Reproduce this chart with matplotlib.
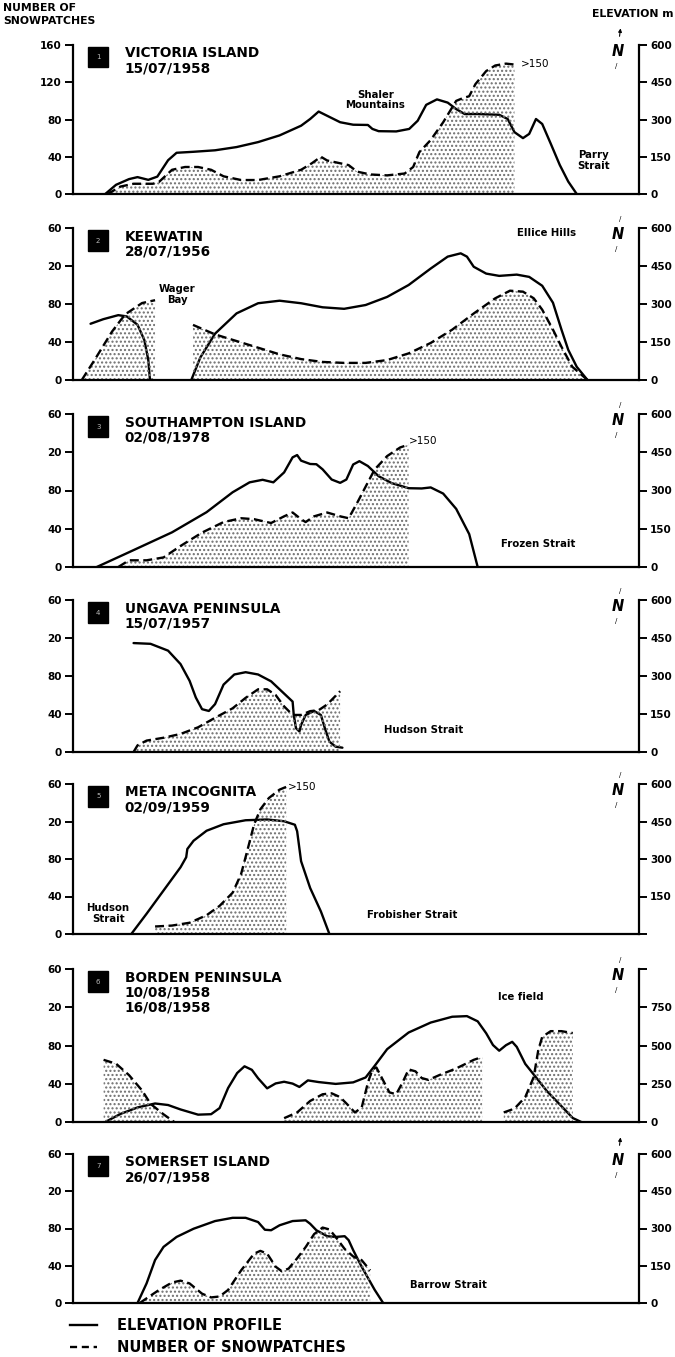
import matplotlib
matplotlib.use('Agg')
import matplotlib.pyplot as plt
from matplotlib.patches import Rectangle
from matplotlib.lines import Line2D

plt.rcParams['font.family'] = ['DejaVu Sans']
plt.rcParams['hatch.linewidth'] = 1.0

# ---------------- data (x = distance along profile, 0-100 relative units) -------------
P1_ELEV_X = [5.7, 7.6, 9.9, 11.4, 13.3, 14.9, 16.8, 18.3, 21.3, 25.1, 28.9, 32.7, 36.5, 40.3, 41.9, 43.4, 44.9, 47.2, 49.5, 52.1, 52.9, 54.0, 57.1, 59.4, 60.9, 62.4, 64.3, 66.2, 67.7, 69.2, 71.5, 75.3, 76.8, 78.0, 79.5, 80.6, 81.8, 82.9, 84.4, 86.0, 87.5, 89.0]
P1_ELEV_M = [0, 37, 60, 68, 57, 70, 136, 166, 170, 176, 189, 209, 236, 275, 302, 332, 315, 289, 279, 278, 262, 253, 252, 262, 295, 359, 381, 368, 342, 322, 322, 319, 302, 249, 225, 242, 302, 282, 203, 117, 50, 0]
P1_SNOW_X = [6.1, 8.4, 10.7, 14.1, 15.2, 17.5, 19.8, 22.1, 24.4, 26.6, 29.7, 32.7, 36.5, 40.3, 42.2, 43.8, 44.9, 47.2, 48.7, 50.2, 52.5, 55.5, 58.6, 60.1, 61.2, 63.2, 65.4, 67.7, 68.9, 70.0, 71.1, 73.0, 74.6, 76.5, 78.0]
P1_SNOW_N = [0, 8, 11, 11, 13, 26, 29, 29, 26, 19, 15, 15, 19, 26, 33, 40, 36, 33, 31, 24, 21, 20, 22, 29, 45, 58, 77, 100, 103, 105, 118, 132, 138, 140, 139]

P2_ELEV_X_A = [3.1, 5.35, 8.0, 9.5, 11.4, 12.6, 13.3, 13.6]
P2_ELEV_M_A = [222, 240, 256, 251, 218, 158, 79, 0]
P2_ELEV_X_B = [20.9, 22.5, 25.1, 28.9, 32.7, 36.5, 40.3, 44.1, 47.9, 51.7, 55.5, 59.3, 63.2, 66.2, 68.5, 69.6, 70.8, 73.0, 75.3, 78.4, 80.6, 82.9, 84.8, 86.3, 87.5, 89.0, 90.9]
P2_ELEV_M_B = [0, 89, 183, 263, 303, 313, 303, 287, 281, 296, 328, 375, 440, 487, 500, 487, 447, 420, 411, 416, 407, 372, 305, 199, 119, 52, 0]
P2_SNOW_X_A = [1.55, 3.8, 6.9, 9.2, 12.2, 14.5]
P2_SNOW_N_A = [0, 21, 51, 69, 81, 84]
P2_SNOW_X_B = [21.2, 25.1, 28.9, 32.7, 36.5, 40.3, 44.1, 47.9, 51.7, 55.5, 59.3, 63.2, 67.0, 70.8, 74.6, 77.2, 79.5, 81.4, 82.9, 84.8, 86.3, 88.2, 90.9]
P2_SNOW_N_B = [58, 48, 41, 34, 27, 22, 19, 18, 18, 21, 28, 39, 53, 70, 86, 94, 93, 86, 74, 53, 35, 14, 0]

P3_ELEV_X = [4.2, 9.9, 17.5, 23.6, 28.2, 31.2, 33.5, 35.4, 37.3, 38.8, 39.6, 40.3, 41.9, 43.0, 44.1, 45.7, 47.2, 48.3, 49.5, 50.6, 52.1, 54.0, 56.3, 59.3, 61.6, 63.2, 65.4, 67.7, 70.0, 71.5]
P3_ELEV_M = [0, 58, 136, 215, 293, 332, 342, 332, 371, 430, 439, 417, 404, 403, 383, 343, 330, 343, 402, 415, 396, 356, 329, 309, 308, 312, 288, 228, 129, 0]
P3_SNOW_X = [8.0, 9.9, 13.0, 16.0, 19.0, 22.8, 26.6, 29.7, 32.0, 35.0, 37.3, 38.8, 40.3, 41.1, 42.6, 44.9, 47.2, 48.7, 50.2, 51.7, 53.3, 55.5, 57.8, 59.3]
P3_SNOW_N = [0, 7, 7, 10, 22, 36, 47, 51, 50, 46, 53, 57, 50, 47, 53, 57, 53, 51, 67, 84, 102, 116, 125, 128]

P4_ELEV_X = [10.7, 13.7, 16.8, 19.0, 20.6, 21.7, 22.8, 24.0, 25.1, 26.6, 28.5, 30.5, 32.7, 35.0, 36.9, 38.8, 39.0, 39.4, 40.0, 40.3, 41.1, 42.6, 43.8, 44.5, 45.3, 46.4, 47.6]
P4_ELEV_M = [430, 427, 400, 347, 281, 215, 169, 162, 189, 266, 306, 315, 306, 279, 239, 199, 147, 94, 81, 107, 146, 162, 146, 94, 41, 21, 17]
P4_SNOW_X = [10.7, 11.4, 13.0, 16.0, 19.0, 22.1, 25.1, 28.2, 30.5, 32.7, 34.3, 35.8, 37.3, 38.8, 40.3, 41.9, 43.4, 44.9, 47.2]
P4_SNOW_N = [0, 7, 12, 15, 19, 26, 36, 46, 57, 66, 66, 60, 48, 39, 39, 43, 44, 50, 64]

P5_ELEV_X = [10.3, 13.0, 16.0, 19.0, 20.0, 20.2, 21.3, 23.6, 26.6, 30.5, 34.3, 37.3, 39.2, 39.6, 40.3, 41.9, 43.8, 45.3]
P5_ELEV_M = [0, 81, 174, 267, 307, 340, 373, 413, 439, 455, 458, 451, 437, 411, 291, 184, 90, 0]
P5_SNOW_X = [14.5, 17.5, 20.6, 23.6, 25.9, 28.2, 29.7, 30.8, 32.0, 33.1, 34.6, 36.5, 37.7]
P5_SNOW_N = [8, 9, 12, 20, 30, 44, 64, 89, 117, 133, 145, 154, 157]

P6_ELEV_X = [5.7, 8.4, 11.4, 14.5, 16.8, 19.0, 22.1, 24.4, 25.9, 27.4, 29.0, 30.3, 31.6, 32.7, 34.3, 35.8, 37.3, 38.8, 40.0, 41.5, 43.4, 46.4, 49.5, 51.7, 53.3, 55.5, 59.3, 63.2, 67.0, 69.6, 71.5, 73.0, 74.2, 75.3, 76.5, 77.6, 78.4, 79.9, 81.8, 83.7, 86.0, 88.3, 89.8]
P6_ELEV_M = [0, 53, 95, 121, 111, 82, 48, 51, 91, 222, 320, 364, 341, 286, 220, 252, 263, 251, 229, 272, 261, 249, 259, 291, 367, 476, 585, 650, 688, 692, 658, 580, 503, 466, 502, 524, 491, 380, 292, 203, 115, 26, 0]
P6_SNOW_X_A = [5.4, 7.6, 9.9, 12.2, 13.7, 16.0, 17.9]
P6_SNOW_N_A = [65, 61, 49, 33, 19, 8, 0]
P6_SNOW_X_B = [37.3, 39.6, 41.9, 44.1, 45.7, 47.2, 48.7, 49.8, 51.0, 52.1, 52.9, 53.6, 54.4, 55.9, 57.1, 58.2, 59.3, 60.5, 61.6, 62.8, 64.7, 67.7, 70.8, 72.3]
P6_SNOW_N_B = [4, 10, 22, 29, 30, 26, 17, 10, 15, 41, 55, 57, 48, 31, 29, 41, 55, 53, 46, 44, 49, 56, 65, 68]
P6_SNOW_X_C = [76.1, 78.0, 79.9, 81.4, 82.2, 82.9, 84.4, 86.3, 88.3]
P6_SNOW_N_C = [10, 14, 26, 47, 75, 89, 95, 95, 93]

P7_ELEV_X = [11.4, 13.0, 14.5, 16.0, 18.3, 21.3, 25.1, 28.2, 30.5, 32.7, 33.9, 35.0, 36.5, 38.8, 41.1, 41.9, 43.0, 44.9, 46.4, 48.0, 48.7, 49.5, 51.0, 53.3, 54.8]
P7_ELEV_M = [0, 79, 173, 226, 266, 299, 330, 343, 343, 326, 295, 293, 313, 330, 333, 319, 293, 269, 266, 269, 253, 213, 146, 53, 0]
P7_SNOW_X = [11.8, 13.0, 15.2, 17.5, 19.0, 20.6, 22.8, 24.4, 25.9, 27.4, 29.7, 32.0, 33.1, 34.3, 35.8, 36.9, 38.1, 39.6, 41.1, 42.6, 44.1, 45.3, 46.4, 48.0, 49.5, 51.0, 52.5]
P7_SNOW_N = [0, 5, 14, 22, 24, 21, 10, 6, 7, 14, 35, 53, 56, 53, 39, 34, 37, 48, 60, 74, 81, 79, 71, 58, 50, 46, 35]

TITLES = [
    ["VICTORIA ISLAND", "15/07/1958"],
    ["KEEWATIN", "28/07/1956"],
    ["SOUTHAMPTON ISLAND", "02/08/1978"],
    ["UNGAVA PENINSULA", "15/07/1957"],
    ["META INCOGNITA", "02/09/1959"],
    ["BORDEN PENINSULA", "10/08/1958", "16/08/1958"],
    ["SOMERSET ISLAND", "26/07/1958"],
]
LEFT_TICKS = [0, 40, 80, 120, 160]
LEFT_LABELS_FIRST = ["0", "40", "80", "120", "160"]
LEFT_LABELS_OTHER = ["0", "40", "80", "20", "60"]
RIGHT_TICKS = [0, 150, 300, 450, 600]
RIGHT_LABELS = ["0", "150", "300", "450", "600"]
RIGHT_LABELS_P5 = ["", "150", "300", "450", "600"]
RIGHT_TICKS_P6 = [0, 250, 500, 750, 1000]
RIGHT_LABELS_P6 = ["0", "250", "500", "750", ""]

PANELS = [
    dict(elev=[(P1_ELEV_X, P1_ELEV_M)], snow=[(P1_SNOW_X, P1_SNOW_N)],
         rt=RIGHT_TICKS, rl=RIGHT_LABELS, rmax=600, ll=LEFT_LABELS_FIRST,
         notes=[(53.4, 101, "Shaler\nMountains"), (92, 36, "Parry\nStrait")],
         gt=(79.2, 140), arrow=True),
    dict(elev=[(P2_ELEV_X_A, P2_ELEV_M_A), (P2_ELEV_X_B, P2_ELEV_M_B)],
         snow=[(P2_SNOW_X_A, P2_SNOW_N_A), (P2_SNOW_X_B, P2_SNOW_N_B)],
         rt=RIGHT_TICKS, rl=RIGHT_LABELS, rmax=600, ll=LEFT_LABELS_OTHER,
         notes=[(18.4, 90, "Wager\nBay"), (83.7, 155, "Ellice Hills")],
         gt=None, arrow=False),
    dict(elev=[(P3_ELEV_X, P3_ELEV_M)], snow=[(P3_SNOW_X, P3_SNOW_N)],
         rt=RIGHT_TICKS, rl=RIGHT_LABELS, rmax=600, ll=LEFT_LABELS_OTHER,
         notes=[(82.2, 24, "Frozen Strait")], gt=(59.4, 132), arrow=False),
    dict(elev=[(P4_ELEV_X, P4_ELEV_M)], snow=[(P4_SNOW_X, P4_SNOW_N)],
         rt=RIGHT_TICKS, rl=RIGHT_LABELS, rmax=600, ll=LEFT_LABELS_OTHER,
         notes=[(62, 23, "Hudson Strait")], gt=None, arrow=False),
    dict(elev=[(P5_ELEV_X, P5_ELEV_M)], snow=[(P5_SNOW_X, P5_SNOW_N)],
         rt=RIGHT_TICKS, rl=RIGHT_LABELS_P5, rmax=600, ll=LEFT_LABELS_OTHER,
         notes=[(6.2, 22, "Hudson\nStrait"), (60, 20, "Frobisher Strait")],
         gt=(37.9, 157), arrow=False),
    dict(elev=[(P6_ELEV_X, P6_ELEV_M)],
         snow=[(P6_SNOW_X_A, P6_SNOW_N_A), (P6_SNOW_X_B, P6_SNOW_N_B), (P6_SNOW_X_C, P6_SNOW_N_C)],
         rt=RIGHT_TICKS_P6, rl=RIGHT_LABELS_P6, rmax=1000, ll=LEFT_LABELS_OTHER,
         notes=[(79.2, 131, "Ice field")], gt=None, arrow=False),
    dict(elev=[(P7_ELEV_X, P7_ELEV_M)], snow=[(P7_SNOW_X, P7_SNOW_N)],
         rt=RIGHT_TICKS, rl=RIGHT_LABELS, rmax=600, ll=LEFT_LABELS_OTHER,
         notes=[(66.3, 19, "Barrow Strait")], gt=None, arrow=True),
]

# pixel layout (top, bottom) of each panel
PIX = [(45, 194), (228, 380), (414, 567), (600, 752), (784, 934), (969, 1122), (1154, 1303)]
W, H = 675, 1357
AX_L, AX_R = 73, 639

fig = plt.figure(figsize=(W / 100, H / 100), dpi=100)
fig.patch.set_facecolor('white')

BOLD = dict(fontweight='bold', color='black')

for i, (p, (yt, yb)) in enumerate(zip(PANELS, PIX)):
    ax = fig.add_axes([AX_L / W, 1 - yb / H, (AX_R - AX_L) / W, (yb - yt) / H])
    ax.set_xlim(0, 100)
    ax.set_ylim(0, 160)
    ax2 = ax.twinx()
    ax2.set_ylim(0, p['rmax'])
    ax.set_zorder(2)
    ax.patch.set_visible(False)
    ax2.set_zorder(1)

    for a in (ax, ax2):
        a.spines['top'].set_visible(False)
        for sp in a.spines.values():
            sp.set_linewidth(1.6)
    ax.spines['right'].set_visible(False)
    ax2.spines['left'].set_visible(False)
    ax2.spines['bottom'].set_visible(False)

    ax.set_xticks([])
    ax.set_yticks(LEFT_TICKS)
    ax.set_yticklabels(p['ll'])
    ax2.set_yticks(p['rt'])
    ax2.set_yticklabels(p['rl'])
    for a in (ax, ax2):
        a.tick_params(axis='y', direction='out', length=6, width=1.4, labelsize=7.5, pad=2)
        for lab in a.get_yticklabels():
            lab.set_fontweight('bold')

    # snowpatch series (dashed, stippled)
    for xs, ns in p['snow']:
        ax.fill_between(xs, 0, ns, facecolor='none', edgecolor='#6e6e6e', linewidth=0,
                        hatch='....', zorder=1)
        ax.plot(xs, ns, color='black', lw=1.7, dashes=(3.8, 1.9), zorder=3)

    # elevation profile (solid) on the right-hand elevation axis
    for xs, ms in p['elev']:
        ax2.plot(xs, ms, color='black', lw=1.7, solid_capstyle='round', zorder=4)

    # titles + number box
    ax.add_patch(Rectangle((0.027, 0.85), 0.035, 0.135, transform=ax.transAxes,
                           facecolor='black', edgecolor='black', clip_on=False, zorder=5))
    ax.text(0.0445, 0.917, str(i + 1), transform=ax.transAxes, ha='center', va='center',
            fontsize=5, color='#bbbbbb', zorder=6)
    ax.text(0.091, 0.99, "\n".join(TITLES[i]), transform=ax.transAxes, ha='left', va='top',
            fontsize=9.8, linespacing=1.1, **BOLD)

    for (nx, ny, txt) in p['notes']:
        ax.text(nx, ny, txt, ha='center', va='center', fontsize=7.3, linespacing=1.1, **BOLD)
    if p['gt'] is not None:
        ax.text(p['gt'][0], p['gt'][1], ">150", ha='left', va='center', fontsize=7.5,
                color='black')

    # north indicator
    ax.text(0.963, 0.955, "N", transform=ax.transAxes, ha='center', va='center',
            fontsize=10.5, fontweight='bold', fontstyle='italic')
    ax.text(0.960, 0.86, "/", transform=ax.transAxes, ha='center', va='center', fontsize=5)
    if p['arrow']:
        ax.annotate("", xy=(0.968, 1.13), xytext=(0.965, 1.04), xycoords='axes fraction',
                    arrowprops=dict(arrowstyle='-|>', color='black', lw=0.8,
                                    mutation_scale=5), annotation_clip=False)
    else:
        ax.text(0.967, 1.06, "/", transform=ax.transAxes, ha='center', va='center',
                fontsize=5, clip_on=False)

# header texts
fig.text(3 / W, 1 - 8 / H, "NUMBER OF", ha='left', va='center', fontsize=7.8, **BOLD)
fig.text(3 / W, 1 - 21 / H, "SNOWPATCHES", ha='left', va='center', fontsize=7.8, **BOLD)
fig.text(674 / W, 1 - 14 / H, "ELEVATION m", ha='right', va='center', fontsize=7.8, **BOLD)

# legend
fig.add_artist(Line2D([70 / W, 97 / W], [1 - 1325 / H] * 2, color='black', lw=1.7))
fig.add_artist(Line2D([70 / W, 97 / W], [1 - 1347 / H] * 2, color='black', lw=1.7,
                      dashes=(3, 2)))
fig.text(117 / W, 1 - 1325 / H, "ELEVATION PROFILE", ha='left', va='center', fontsize=10.5, **BOLD)
fig.text(117 / W, 1 - 1347 / H, "NUMBER OF SNOWPATCHES", ha='left', va='center', fontsize=10.5, **BOLD)

fig.savefig('out.png', dpi=100, facecolor='white')
